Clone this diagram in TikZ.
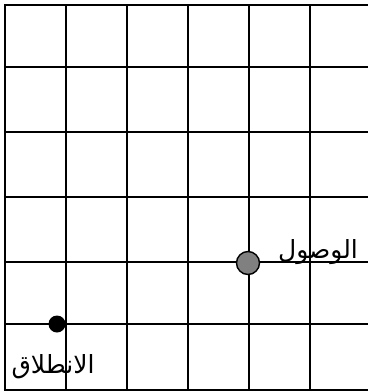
\documentclass[tikz,border=0pt]{standalone}
\usepackage{fontspec}
\TeXXeTstate=1
\newfontfamily\arabicfont[Script=Arabic]{DejaVu Sans}
\begin{document}
\begin{tikzpicture}[x=1pt,y=-1pt,
  gridline/.style={line width=2.4pt},
  startdot/.style={circle,fill=black,inner sep=0pt,minimum size=17pt},
  enddot/.style={circle,draw=black,line width=1.4pt,fill=gray,inner sep=0pt,minimum size=23pt},
  lbl/.style={font=\arabicfont\fontsize{25}{30}\selectfont,inner sep=0pt,anchor=base}]
\useasboundingbox[fill=white] (0,0) rectangle (368,392);
\foreach \x in {5,66,127,188,249,310} \draw[gridline] (\x,4) -- (\x,391);
\foreach \y in {5,67,132,197,262,324,390} \draw[gridline] (4,\y) -- (368,\y);
\node[startdot] (start) at (57,324) {};
\node[enddot] (goal) at (248,263) {};
\node[lbl] (goallbl) at (318,258) {\beginR الوصول\endR};
\node[lbl] (startlbl) at (53,373) {\beginR الانطلاق\endR};
\end{tikzpicture}
\end{document}
